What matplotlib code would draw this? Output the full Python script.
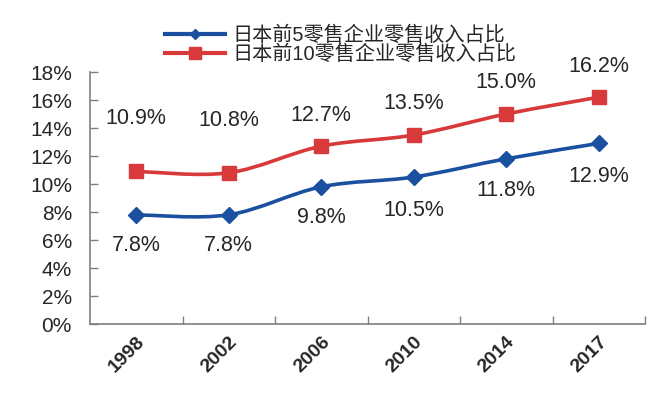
import matplotlib
matplotlib.use("Agg")
import matplotlib.pyplot as plt
from matplotlib.path import Path
from matplotlib.patches import PathPatch
from matplotlib.lines import Line2D
import numpy as np

plt.rcParams['font.family'] = ['Liberation Sans', 'Noto Sans CJK SC', 'DejaVu Sans']

years = ['1998', '2002', '2006', '2010', '2014', '2017']
top5 = [7.8, 7.8, 9.8, 10.5, 11.8, 12.9]
top10 = [10.9, 10.8, 12.7, 13.5, 15.0, 16.2]
name5 = '日本前5零售企业零售收入占比'
name10 = '日本前10零售企业零售收入占比'
yticks = [0, 2, 4, 6, 8, 10, 12, 14, 16, 18]

blue = '#1B4FA0'
red = '#D8393A'
txt = '#262626'
axc = '#7F7F7F'

# label offsets in points (positions, not data)
off10 = [38, 38, 22, 23, 23, 22]
off5 = [-22, -22, -22, -24, -23, -24]

fig = plt.figure(figsize=(6.68, 3.97), dpi=100)
ax = fig.add_axes([90/668, 1-324/397, (645-90)/668, (324-72)/397])


def smooth_path(xs, ys):
    xs = np.asarray(xs, float)
    ys = np.asarray(ys, float)
    n = len(xs)
    verts = [(xs[0], ys[0])]
    codes = [Path.MOVETO]
    for i in range(n-1):
        x0, y0 = (xs[i-1], ys[i-1]) if i > 0 else (xs[i], ys[i])
        x1, y1 = xs[i], ys[i]
        x2, y2 = xs[i+1], ys[i+1]
        x3, y3 = (xs[i+2], ys[i+2]) if i+2 < n else (xs[i+1], ys[i+1])
        c1 = (x1 + (x2-x0)/6, y1 + (y2-y0)/6)
        c2 = (x2 - (x3-x1)/6, y2 - (y3-y1)/6)
        verts += [c1, c2, (x2, y2)]
        codes += [Path.CURVE4]*3
    return Path(verts, codes)


x = np.arange(len(years))
for vals, col, mk, ms in [(top10, red, 's', 9.5), (top5, blue, 'D', 8)]:
    ax.add_patch(PathPatch(smooth_path(x, vals), facecolor='none', edgecolor=col,
                           lw=2.6, zorder=3, capstyle='round'))
    ax.plot(x, vals, linestyle='none', marker=mk, ms=ms, color=col, zorder=4)

for i, v in enumerate(top10):
    ax.annotate(f'{v:.1f}%', (i, v), xytext=(0, off10[i]), textcoords='offset points',
                ha='center', va='center', fontsize=15.5, color=txt)
for i, v in enumerate(top5):
    ax.annotate(f'{v:.1f}%', (i, v), xytext=(0, off5[i]), textcoords='offset points',
                ha='center', va='center', fontsize=15.5, color=txt)

ax.set_xlim(-0.5, len(years)-0.5)
ax.set_ylim(0, 18)
ax.set_yticks(yticks)
ax.set_yticklabels([f'{t}%' for t in yticks], fontsize=15, color=txt)
ax.set_xticks(x)
ax.set_xticklabels(years, rotation=45, ha='right', rotation_mode='anchor',
                   fontsize=14, fontweight='bold', color=txt)
ax.tick_params(axis='x', length=0, pad=7)
ax.set_xticks(np.arange(len(years)) + 0.5, minor=True)
ax.tick_params(axis='x', which='minor', direction='in', length=6, color=axc, width=1)
ax.tick_params(axis='y', direction='in', length=6, color=axc, width=1, pad=13)
for s in ['top', 'right']:
    ax.spines[s].set_visible(False)
for s in ['left', 'bottom']:
    ax.spines[s].set_color(axc)
    ax.spines[s].set_linewidth(1.2)

handles = [Line2D([], [], color=blue, lw=3, marker='D', ms=5),
           Line2D([], [], color=red, lw=3, marker='s', ms=8)]
fig.legend(handles, [name5, name10], loc='upper left',
           bbox_to_anchor=(165/668, 1-26/397), frameon=False, fontsize=14.5,
           borderpad=0, borderaxespad=0, handlelength=3.0, handletextpad=0.35,
           labelspacing=-0.05, labelcolor=txt)

fig.savefig('out.png', dpi=100)
